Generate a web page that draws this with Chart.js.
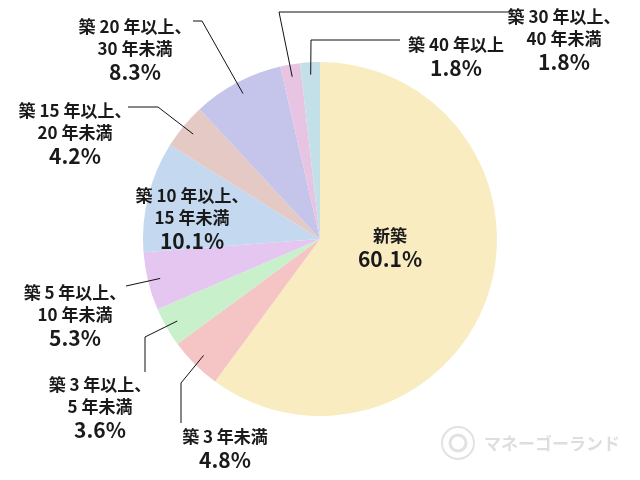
<!DOCTYPE html>
<html lang="ja">
<head>
<meta charset="utf-8">
<script src="https://cdn.jsdelivr.net/npm/chart.js@4/dist/chart.umd.min.js"></script>
<style>
  html, body { margin: 0; padding: 0; background: #fff; }
  #wrap { width: 640px; height: 480px; }
</style>
</head>
<body>
<div id="wrap"><canvas id="pie" width="640" height="480"></canvas></div>
<script>
// data (share of total, %)
var categories = ['新築', '築3年未満', '築3年以上5年未満', '築5年以上10年未満', '築10年以上15年未満',
    '築15年以上20年未満', '築20年以上30年未満', '築30年以上40年未満', '築40年以上'];
var shares = [60.1, 4.8, 3.6, 5.3, 10.1, 4.2, 8.3, 1.8, 1.8];
var labelLines = [
    ['新築'],
    ['築 3 年未満'],
    ['築 3 年以上、', '5 年未満'],
    ['築 5 年以上、', '10 年未満'],
    ['築 10 年以上、', '15 年未満'],
    ['築 15 年以上、', '20 年未満'],
    ['築 20 年以上、', '30 年未満'],
    ['築 30 年以上、', '40 年未満'],
    ['築 40 年以上']
];
var sliceColors = ['#f8ecc0', '#f5c4c4', '#c8f1cb', '#e5c6f1', '#c4d8ef',
    '#e4c9c4', '#c5c4eb', '#e7c4e2', '#c3dfe7'];

// where each label block sits, and the bends of its leader line (null = no line)
var labelLayout = [
    { x: 390, y: 236, bend: null },
    { x: 225, y: 437, bend: [[181, 383], [181, 423]] },
    { x: 100, y: 385, bend: [[145, 337], [145, 372]] },
    { x: 75, y: 293, bend: [[126, 286]] },
    { x: 192, y: 196, bend: null },
    { x: 75, y: 111, bend: [[158, 107], [128, 107]] },
    { x: 135, y: 27, bend: [[202, 21], [193, 21]] },
    { x: 564, y: 17, bend: [[279, 12], [512, 12]] },
    { x: 456, y: 45, bend: [[311, 40], [400, 40]] }
];

var textColor = '#1a1a1a';

var labelPlugin = {
    id: 'sliceLabels',
    afterDatasetsDraw: function (chart) {
        var ctx = chart.ctx;
        var meta = chart.getDatasetMeta(0);
        ctx.save();
        meta.data.forEach(function (arc, i) {
            var lay = labelLayout[i];
            var p = arc.getProps(['x', 'y', 'startAngle', 'endAngle', 'outerRadius'], true);
            var mid = (p.startAngle + p.endAngle) / 2;

            if (lay.bend) {
                var r = p.outerRadius * 0.93;
                ctx.strokeStyle = '#111';
                ctx.lineWidth = 1;
                ctx.beginPath();
                ctx.moveTo(p.x + Math.cos(mid) * r, p.y + Math.sin(mid) * r);
                lay.bend.forEach(function (pt) { ctx.lineTo(pt[0], pt[1]); });
                ctx.stroke();
            }

            ctx.fillStyle = textColor;
            ctx.textAlign = 'center';
            ctx.textBaseline = 'middle';
            var y = lay.y;
            ctx.font = 'bold 17px "Noto Sans CJK JP", "Noto Sans", sans-serif';
            labelLines[i].forEach(function (line) {
                ctx.fillText(line, lay.x, y);
                y += 22;
            });
            ctx.font = 'bold 21px "Noto Sans CJK JP", "Noto Sans", sans-serif';
            ctx.fillText(shares[i].toFixed(1) + '%', lay.x, y + 1);
        });
        ctx.restore();
    }
};

var watermarkPlugin = {
    id: 'watermark',
    afterDraw: function (chart) {
        var ctx = chart.ctx;
        ctx.save();
        ctx.strokeStyle = '#e2e2e2';
        ctx.lineWidth = 2;
        ctx.beginPath();
        ctx.arc(458, 443, 16, 0, Math.PI * 2);
        ctx.stroke();
        ctx.lineWidth = 3;
        ctx.beginPath();
        ctx.arc(458, 443, 8, 0, Math.PI * 2);
        ctx.stroke();
        ctx.fillStyle = '#dedede';
        ctx.font = 'bold 17px "Noto Sans CJK JP", sans-serif';
        ctx.textAlign = 'left';
        ctx.textBaseline = 'middle';
        ctx.fillText('マネーゴーランド', 484, 444);
        ctx.restore();
    }
};

new Chart(document.getElementById('pie').getContext('2d'), {
    type: 'pie',
    data: {
        labels: categories,
        datasets: [{
            data: shares,
            backgroundColor: sliceColors,
            borderWidth: 0
        }]
    },
    options: {
        responsive: false,
        animation: false,
        layout: { padding: { top: 62, bottom: 64, left: 0, right: 0 } },
        plugins: {
            legend: { display: false },
            tooltip: { enabled: false }
        }
    },
    plugins: [labelPlugin, watermarkPlugin]
});
</script>
</body>
</html>
